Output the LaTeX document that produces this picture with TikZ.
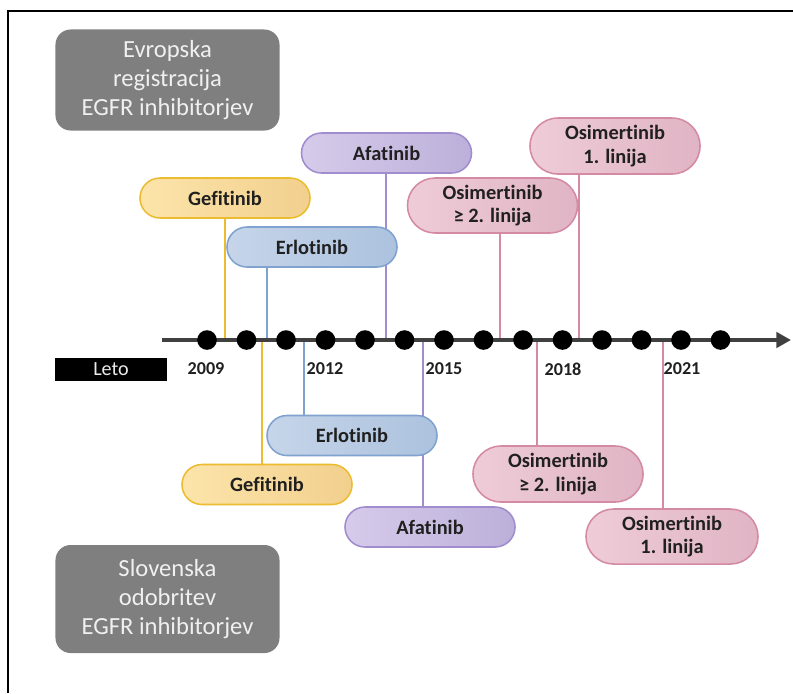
\documentclass[tikz,border=0pt]{standalone}
\usepackage{fontspec}
\setmainfont{Carlito}[Ligatures={NoCommon}]
\usetikzlibrary{arrows.meta,shapes.misc,backgrounds}
\definecolor{egfrgray}{RGB}{127,127,127}
\definecolor{egfraxis}{RGB}{64,64,64}
\definecolor{egfrtext}{RGB}{32,32,32}
\definecolor{gefilight}{RGB}{252,228,170}
\definecolor{gefidark}{RGB}{242,208,142}
\definecolor{gefiline}{RGB}{236,188,48}
\definecolor{erlolight}{RGB}{198,213,233}
\definecolor{erlodark}{RGB}{172,194,222}
\definecolor{erloline}{RGB}{128,162,206}
\definecolor{afalight}{RGB}{214,203,234}
\definecolor{afadark}{RGB}{188,176,218}
\definecolor{afaline}{RGB}{160,140,206}
\definecolor{osilight}{RGB}{238,204,215}
\definecolor{osidark}{RGB}{224,180,196}
\definecolor{osiline}{RGB}{212,138,164}

\begin{document}
\begin{tikzpicture}[x=0.025cm,y=-0.025cm,>=Latex,
 drug/.style={rounded rectangle,draw=#1line,line width=1.1pt,
   left color=#1light,right color=#1dark,minimum width=4.25cm,
   minimum height=1cm,inner sep=0pt,align=center,text=egfrtext,
   font=\fontsize{14.5}{16.5}\selectfont\bfseries},
 stem/.style={line width=1.4pt,#1line},
 panel/.style={fill=egfrgray,rounded corners=0.38cm,minimum width=5.6cm,
   inner sep=0pt,align=center,text=white!94!black,
   font=\fontsize{17.5}{20.5}\selectfont},
 year/.style={inner sep=0pt,text=egfrtext,
   font=\fontsize{12.9}{14}\selectfont\bfseries}]
 \useasboundingbox (0,0) rectangle (793,693);
 \draw[line width=1.6pt] (8,693) -- (8,11) -- (793,11);

 % time axis
 \coordinate (axisL) at (162,340);
 \coordinate (axisR) at (791,340);
 \draw[line width=3.5pt,egfraxis,-{Triangle[length=10.5pt,width=11pt]}]
   (axisL) -- (axisR);
 \foreach \i in {0,...,13}
   \fill (207+39.5*\i,340) circle (0.245cm);
 \foreach \yr [count=\k from 0] in {2009,2012,2015,2018,2021}
   \node[year] (yr\yr) at (206+119*\k,369) {\yr};
 \node[fill=black,minimum width=2.8cm,minimum height=0.575cm,inner sep=0pt,
   text=white!92!black,font=\fontsize{14.3}{16}\selectfont] (leto)
   at (111,369.5) {Leto};

 % legends
 \node[panel,minimum height=2.525cm] (regEU) at (167.5,80)
   {Evropska\\registracija\\EGFR inhibitorjev};
 \node[panel,minimum height=2.7cm] (regSI) at (167.5,599)
   {Slovenska\\odobritev\\EGFR inhibitorjev};

 % above the axis: EU
 \node[drug=gefi] (gefiEU) at (225,198) {Gefitinib};
 \node[drug=erlo] (erloEU) at (312,247) {Erlotinib};
 \node[drug=afa] (afaEU) at (386.5,153) {Afatinib};
 \node[drug=osi,minimum height=1.375cm] (osiTwoEU) at (492.5,205.5)
   {Osimertinib\\≥ 2. linija};
 \node[drug=osi,minimum height=1.4cm] (osiOneEU) at (615,146)
   {Osimertinib\\1. linija};

 % below the axis: SI
 \node[drug=gefi] (gefiSI) at (267,484.5) {Gefitinib};
 \node[drug=erlo] (erloSI) at (352,435.5) {Erlotinib};
 \node[drug=afa] (afaSI) at (430,527) {Afatinib};
 \node[drug=osi,minimum height=1.4cm] (osiTwoSI) at (558,474)
   {Osimertinib\\≥ 2. linija};
 \node[drug=osi,minimum height=1.375cm,minimum width=4.3cm] (osiOneSI)
   at (672,536.5) {Osimertinib\\1. linija};

 \coordinate (gefiEUt) at (225,340);
 \coordinate (erloEUt) at (267,340);
 \coordinate (afaEUt) at (386,340);
 \coordinate (osiTwoEUt) at (500,340);
 \coordinate (osiOneEUt) at (579,340);
 \coordinate (gefiSIt) at (262,340);
 \coordinate (erloSIt) at (304,340);
 \coordinate (afaSIt) at (423,340);
 \coordinate (osiTwoSIt) at (537,340);
 \coordinate (osiOneSIt) at (663,340);

 \begin{pgfonlayer}{background}
  \draw[stem=gefi] (gefiEU.south -| gefiEUt) -- (gefiEUt);
  \draw[stem=erlo] (erloEU.south -| erloEUt) -- (erloEUt);
  \draw[stem=afa] (afaEU.south -| afaEUt) -- (afaEUt);
  \draw[stem=osi] (osiTwoEU.south -| osiTwoEUt) -- (osiTwoEUt);
  \draw[stem=osi] (osiOneEU.south -| osiOneEUt) -- (osiOneEUt);
  \draw[stem=gefi] (gefiSIt) -- (gefiSI.north -| gefiSIt);
  \draw[stem=erlo] (erloSIt) -- (erloSI.north -| erloSIt);
  \draw[stem=afa] (afaSIt) -- (afaSI.north -| afaSIt);
  \draw[stem=osi] (osiTwoSIt) -- (osiTwoSI.north -| osiTwoSIt);
  \draw[stem=osi] (osiOneSIt) -- (osiOneSI.north -| osiOneSIt);
 \end{pgfonlayer}
\end{tikzpicture}
\end{document}
